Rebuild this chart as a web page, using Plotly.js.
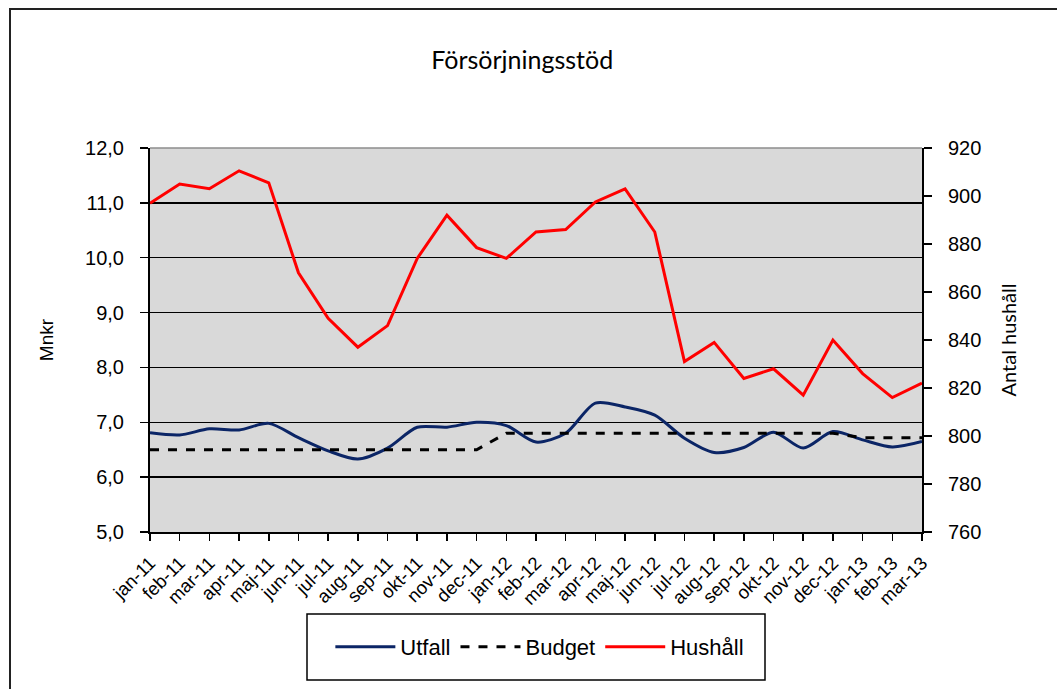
<!DOCTYPE html>
<html>
<head>
<meta charset="utf-8">
<script src="https://cdn.plot.ly/plotly-3.0.1.min.js"></script>
<style>
html,body{margin:0;padding:0;background:#fff;}
#chart{width:1057px;height:689px;}
</style>
</head>
<body>
<div id="chart"></div>
<script>
const months = ["jan-11","feb-11","mar-11","apr-11","maj-11","jun-11","jul-11","aug-11","sep-11","okt-11","nov-11","dec-11",
  "jan-12","feb-12","mar-12","apr-12","maj-12","jun-12","jul-12","aug-12","sep-12","okt-12","nov-12","dec-12",
  "jan-13","feb-13","mar-13"];
const utfall = [6.81,6.77,6.88,6.86,6.98,6.72,6.48,6.33,6.53,6.91,6.91,7.00,
  6.94,6.64,6.80,7.35,7.28,7.13,6.71,6.45,6.54,6.82,6.53,6.83,
  6.68,6.55,6.65];
const budget = [6.5,6.5,6.5,6.5,6.5,6.5,6.5,6.5,6.5,6.5,6.5,6.5,
  6.8,6.8,6.8,6.8,6.8,6.8,6.8,6.8,6.8,6.8,6.8,6.8,
  6.72,6.72,6.72];
const hushall = [897,905,903,910.5,905.5,868,849,837,846,874,892,878.5,
  874,885,886,897.5,903,885,831,839,824,828,817,840,
  826,816,822];
const leftTicks = [5,6,7,8,9,10,11,12];
const leftTickText = ["5,0","6,0","7,0","8,0","9,0","10,0","11,0","12,0"];
const rightTicks = [760,780,800,820,840,860,880,900,920];

const tickFont = {family:"Liberation Sans, Arial, sans-serif", size:20, color:"#000"};

const traces = [
  {x:months, y:utfall, name:"Utfall", type:"scatter", mode:"lines",
   line:{color:"#0b2566", width:3, shape:"spline", smoothing:0.8}},
  {x:months, y:budget, name:"Budget", type:"scatter", mode:"lines",
   line:{color:"#000", width:3, dash:"dash"}},
  {x:months, y:hushall, name:"Hushåll", type:"scatter", mode:"lines", yaxis:"y2",
   line:{color:"#ff0000", width:3}}
];

const layout = {
  width:1057, height:689,
  margin:{l:150, r:135, t:148, b:157, pad:0},
  paper_bgcolor:"#fff", plot_bgcolor:"#d9d9d9",
  showlegend:true,
  title:{text:"Försörjningsstöd", x:0.494, xanchor:"center", y:0.913, yanchor:"middle",
    font:{family:"Lato, Open Sans, sans-serif", size:25, color:"#000"}},
  xaxis:{type:"category", range:[0,26], showgrid:false, zeroline:false,
    showline:true, linecolor:"#000", linewidth:2,
    ticks:"outside", ticklen:7, tickwidth:1.5, tickcolor:"#000",
    ticklabelstandoff:4,
    tickangle:-45, tickfont:{family:"Liberation Sans, Arial, sans-serif", size:18.5, color:"#000"},
    fixedrange:true},
  yaxis:{range:[5,12], tickvals:leftTicks, ticktext:leftTickText,
    showgrid:true, gridcolor:"#000", gridwidth:1.5, zeroline:false,
    showline:true, linecolor:"#000", linewidth:2,
    ticks:"outside", ticklen:8, tickwidth:1.5, tickcolor:"#000",
    ticklabelstandoff:12,
    tickfont:tickFont,
    title:{text:"Mnkr", standoff:26, font:{family:"Liberation Sans, Arial, sans-serif", size:19, color:"#000"}}},
  yaxis2:{range:[760,920], tickvals:rightTicks, overlaying:"y", side:"right",
    showgrid:false, zeroline:false,
    showline:true, linecolor:"#000", linewidth:2,
    ticks:"outside", ticklen:8, tickwidth:1.5, tickcolor:"#000",
    ticklabelstandoff:12,
    tickfont:tickFont,
    title:{text:"Antal hushåll", standoff:22, font:{family:"Lato, Open Sans, sans-serif", size:20, color:"#000"}}},
  legend:{orientation:"h", x:0.505, xanchor:"center", y:(532-647)/384, yanchor:"middle",
    borderwidth:0, bgcolor:"rgba(0,0,0,0)",
    font:{family:"Liberation Sans, Arial, sans-serif", size:22, color:"#000"},
    itemwidth:60, tracegroupgap:0},
  shapes:[
    {type:"line", xref:"paper", yref:"paper", x0:0, x1:1, y0:1, y1:1,
     line:{color:"#8c8c8c", width:1.5}},
    {type:"rect", xref:"paper", yref:"paper",
     x0:(307-150)/772, x1:(765-150)/772, y0:(532-680)/384, y1:(532-614)/384,
     line:{color:"#000", width:1.5}, fillcolor:"#fff", layer:"below"},
    {type:"rect", xref:"paper", yref:"paper",
     x0:(10-150)/772, x1:(1070-150)/772, y0:(532-700)/384, y1:(532-9)/384,
     line:{color:"#222", width:2}, fillcolor:"rgba(0,0,0,0)"}
  ]
};

Plotly.newPlot("chart", traces, layout, {displayModeBar:false, staticPlot:true});
</script>
</body>
</html>
